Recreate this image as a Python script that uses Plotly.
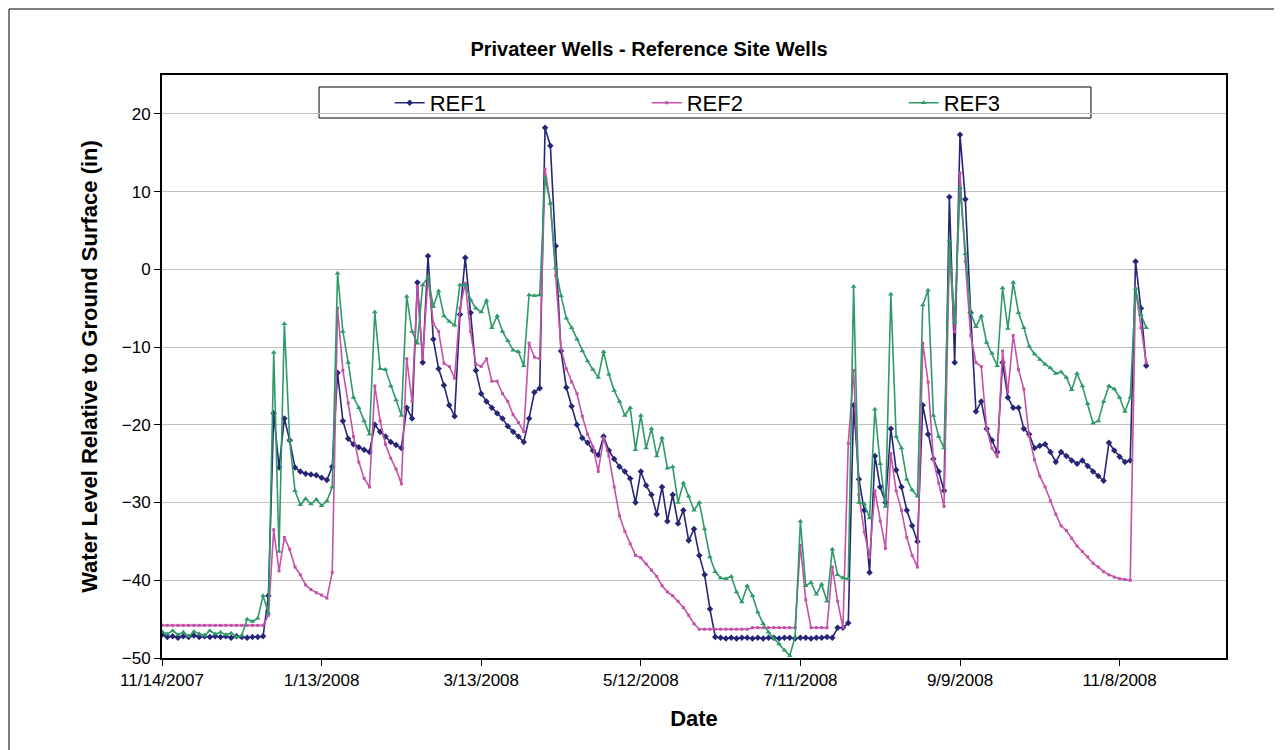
import pandas as pd
import plotly.graph_objects as go

# readings every 2 days, starting 11/14/2007
start_date = "2007-11-14"
n_points = 186

ref1 = [
    -47.0, -47.3, -47.2, -47.4, -47.2, -47.3, -47.1, -47.3, -47.2, -47.3,
    -47.2, -47.3, -47.2, -47.4, -47.2, -47.3, -47.4, -47.3, -47.3, -47.2,
    -42.0, -18.5, -25.5, -19.2, -22.0, -25.5, -26.0, -26.3, -26.4, -26.5,
    -26.8, -27.1, -25.4, -13.3, -19.5, -21.8, -22.5, -22.9, -23.2, -23.5,
    -20.0, -20.9, -21.5, -22.2, -22.6, -23.0, -17.8, -19.2, -1.7, -12.0,
    1.7, -9.0, -12.8, -14.9, -17.5, -18.9, -5.8, 1.5, -5.6, -13.0,
    -16.0, -17.0, -17.8, -18.5, -19.2, -20.2, -20.9, -21.5, -22.2, -19.2,
    -15.8, -15.3, 18.2, 15.9, 3.0, -10.5, -15.2, -17.6, -20.0, -21.7,
    -22.3, -23.3, -23.9, -21.5, -23.3, -24.4, -25.4, -26.0, -26.9, -30.0,
    -26.0, -27.8, -29.0, -31.5, -28.0, -32.4, -29.0, -32.7, -31.0, -34.9,
    -33.4, -36.8, -39.3, -43.7, -47.3, -47.4, -47.5, -47.4, -47.5, -47.4,
    -47.4, -47.5, -47.4, -47.5, -47.4, -47.4, -47.5, -47.4, -47.4, -47.5,
    -47.4, -47.4, -47.5, -47.4, -47.4, -47.3, -47.4, -46.1, -46.1, -45.5,
    -17.5, -27.0, -31.0, -39.0, -24.0, -28.0, -30.0, -20.5, -25.8, -28.0,
    -31.0, -33.0, -35.0, -17.5, -21.2, -24.4, -26.0, -28.5, 9.3, -12.0,
    17.3, 9.0, -5.6, -18.3, -17.0, -20.5, -22.0, -23.5, -12.0, -16.5,
    -17.8, -17.8, -20.5, -21.2, -23.0, -22.7, -22.5, -23.5, -24.8, -23.5,
    -24.0, -24.6, -25.0, -24.6, -25.3, -26.0, -26.6, -27.2, -22.3, -23.3,
    -24.1, -24.8, -24.6, 1.0, -5.0, -12.4,
]

ref2 = [
    -45.8, -45.8, -45.8, -45.8, -45.8, -45.8, -45.8, -45.8, -45.8, -45.8,
    -45.8, -45.8, -45.8, -45.8, -45.8, -45.8, -45.8, -45.8, -45.8, -45.8,
    -44.5, -33.5, -38.8, -34.5, -36.0, -38.3, -39.3, -40.6, -41.2, -41.6,
    -41.9, -42.3, -39.0, -5.0, -13.0, -17.2, -21.5, -24.8, -26.9, -28.0,
    -15.0, -19.5, -22.5, -24.3, -25.7, -27.6, -11.5, -17.0, -2.2, -11.5,
    -1.0, -7.0, -8.0, -12.1, -12.5, -14.0, -5.0, -1.8, -8.0, -12.2,
    -12.5, -11.5, -14.4, -14.4, -16.0, -17.0, -18.7, -19.7, -20.9, -9.5,
    -11.3, -11.5, 12.9, 8.5, -0.8, -10.2, -12.8, -14.5, -16.0, -18.9,
    -21.2, -22.8, -26.0, -21.7, -24.0, -28.0, -31.7, -33.7, -35.3, -36.8,
    -37.1, -37.9, -38.7, -39.5, -40.7, -41.5, -42.0, -42.7, -43.5, -44.5,
    -45.6, -46.3, -46.3, -46.3, -46.3, -46.3, -46.3, -46.3, -46.3, -46.3,
    -46.3, -46.1, -46.1, -46.1, -46.1, -46.1, -46.1, -46.1, -46.1, -46.1,
    -35.5, -42.5, -46.1, -46.1, -46.1, -46.1, -38.3, -42.7, -46.1, -22.4,
    -13.0, -29.0, -33.8, -37.0, -28.5, -32.4, -35.9, -23.7, -28.5, -31.0,
    -34.5, -36.8, -38.3, -9.5, -14.5, -24.5, -27.5, -30.5, 2.2, -8.0,
    12.4, 1.0, -8.5, -12.0, -12.5, -20.5, -23.0, -24.1, -10.5, -15.8,
    -8.5, -12.9, -15.4, -21.5, -24.5, -26.6, -28.0, -29.8, -31.5, -33.0,
    -33.6, -34.6, -35.6, -36.3, -37.0, -37.8, -38.3, -38.9, -39.3, -39.6,
    -39.8, -39.9, -40.0, -2.5, -7.5, -12.0,
]

ref3 = [
    -46.6, -46.9, -46.5, -47.0, -46.7, -47.2, -46.6, -46.9, -47.1, -46.5,
    -46.9, -46.7, -47.0, -46.8, -47.3, -47.1, -45.0, -45.3, -44.9, -42.0,
    -44.2, -10.7, -36.3, -7.0, -22.0, -28.5, -30.3, -29.5, -30.2, -29.6,
    -30.4, -29.8, -28.0, -0.5, -8.0, -12.0, -16.5, -17.8, -19.5, -21.2,
    -5.5, -12.8, -12.9, -15.0, -16.8, -18.8, -3.5, -8.0, -9.5, -2.0,
    -1.0, -4.8, -2.8, -6.0, -6.7, -7.2, -2.0, -2.0, -3.9, -5.0,
    -5.5, -4.0, -7.5, -6.0, -8.0, -9.2, -10.4, -10.6, -12.4, -3.3,
    -3.4, -3.3, 11.8, 8.5, 0.2, -3.4, -6.3, -7.5, -9.0, -10.5,
    -11.8, -12.9, -13.9, -10.6, -13.5, -15.6, -17.0, -18.8, -17.8, -23.2,
    -18.8, -23.0, -20.5, -24.0, -21.7, -25.6, -25.4, -30.0, -27.5, -29.2,
    -31.0, -30.0, -33.4, -37.0, -38.9, -39.7, -39.8, -39.5, -41.5, -42.8,
    -40.7, -42.0, -44.1, -45.6, -46.7, -47.5, -48.2, -49.0, -49.7, -47.3,
    -32.4, -40.7, -40.3, -41.8, -40.5, -42.7, -36.0, -39.3, -39.7, -39.8,
    -2.2, -30.0, -30.2, -32.0, -18.0, -25.0, -30.5, -3.2, -21.5, -23.0,
    -27.0, -28.4, -29.2, -4.6, -2.7, -18.8, -21.5, -23.0, 3.7, -6.8,
    10.5, 2.0, -5.6, -7.4, -6.0, -9.4, -10.8, -12.4, -2.4, -7.6,
    -1.7, -5.6, -7.5, -9.9, -10.9, -11.6, -12.2, -12.7, -13.4, -13.2,
    -13.9, -15.5, -13.4, -15.0, -17.3, -19.8, -19.5, -17.0, -15.0, -15.4,
    -16.5, -18.3, -16.5, -2.5, -5.8, -7.5,
]

assert len(ref1) == len(ref2) == len(ref3) == n_points

dates = pd.date_range(start_date, periods=n_points, freq="2D")

series = [
    ("REF1", ref1, "#262676", "diamond", 5),
    ("REF2", ref2, "#C452A9", "square", 3),
    ("REF3", ref3, "#2F9A68", "triangle-up", 5),
]

fig = go.Figure()
for name, vals, color, symbol, size in series:
    fig.add_trace(go.Scatter(
        x=dates, y=vals, name=name, mode="lines+markers",
        line=dict(color=color, width=1.6),
        marker=dict(symbol=symbol, size=size, color=color),
    ))

FONT = "Arial, Liberation Sans, sans-serif"

# plot area: x 154..1218, y 67..650 on a 1282x750 page
fig.update_layout(
    width=1282, height=750, autosize=False,
    margin=dict(l=154, r=64, t=67, b=100),
    paper_bgcolor="white", plot_bgcolor="white",
    font=dict(family=FONT, color="black"),
    title=dict(text="<b>Privateer Wells - Reference Site Wells</b>",
               x=0.5, xref="container", y=1 - 41 / 750, yref="container",
               xanchor="center", yanchor="middle", font=dict(size=20)),
    showlegend=True,
    legend=dict(orientation="h", x=0.214, y=0.952, xanchor="left", yanchor="middle",
                bgcolor="rgba(0,0,0,0)", borderwidth=0, font=dict(size=22),
                entrywidth=212, entrywidthmode="pixels", itemwidth=30),
    shapes=[
        # legend frame
        dict(type="rect", xref="paper", yref="paper",
             x0=0.1476, x1=0.8731, y0=0.9262, y1=0.9794,
             fillcolor="white", line=dict(color="black", width=1), layer="between"),
        # chart area frame
        dict(type="rect", xref="paper", yref="paper",
             x0=-0.1438, x1=1.0592, y0=-0.1698, y1=1.1132,
             line=dict(color="black", width=1), layer="below"),
    ],
)

fig.update_xaxes(
    type="date", range=["2007-11-14", "2008-12-18"],
    tick0="2007-11-14", dtick=60 * 86400000, tickformat="%-m/%-d/%Y",
    ticks="outside", ticklen=6, tickcolor="black", tickfont=dict(size=17),
    showgrid=False, zeroline=False,
    showline=True, linecolor="black", linewidth=2, mirror=True,
    title=dict(text="<b>Date</b>", font=dict(size=22), standoff=21),
)
fig.update_yaxes(
    range=[-50, 25], tick0=-50, dtick=10,
    ticks="outside", ticklen=6, tickcolor="black", tickfont=dict(size=17),
    showgrid=True, gridcolor="#C0C0C0", gridwidth=1, zeroline=False,
    showline=True, linecolor="black", linewidth=2, mirror=True,
    title=dict(text="<b>Water Level Relative to Ground Surface (in)</b>",
               font=dict(size=22), standoff=18),
)

fig.write_html("out.html")
